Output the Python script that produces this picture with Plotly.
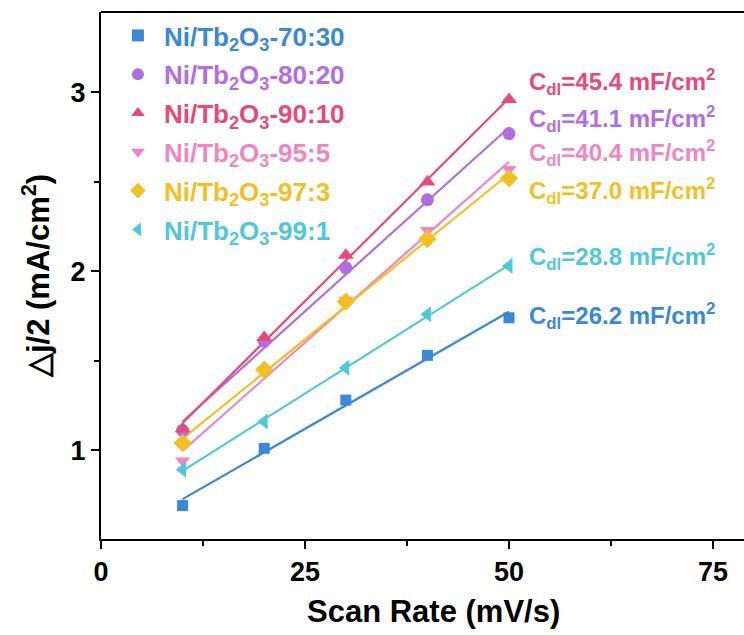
import plotly.graph_objects as go

# Scan rates (mV/s)
scan_rate = [10, 20, 30, 40, 50]

# Half of the capacitive current density difference, Δj/2 (mA/cm²)
j_70_30 = [0.69, 1.01, 1.28, 1.53, 1.74]
j_80_20 = [1.11, 1.61, 2.02, 2.40, 2.77]
j_90_10 = [1.12, 1.63, 2.09, 2.50, 2.96]
j_95_5 = [0.94, 1.44, 1.84, 2.23, 2.57]
j_97_3 = [1.04, 1.45, 1.83, 2.18, 2.52]
j_99_1 = [0.89, 1.16, 1.46, 1.76, 2.03]

# Double-layer capacitance from the linear fits (mF/cm²)
cdl_70_30 = 26.2
cdl_80_20 = 41.1
cdl_90_10 = 45.4
cdl_95_5 = 40.4
cdl_97_3 = 37.0
cdl_99_1 = 28.8

sample_names = ["70:30", "80:20", "90:10", "95:5", "97:3", "99:1"]
series_values = [j_70_30, j_80_20, j_90_10, j_95_5, j_97_3, j_99_1]
cdl_values = [cdl_70_30, cdl_80_20, cdl_90_10, cdl_95_5, cdl_97_3, cdl_99_1]
colors = ["#3b88d6", "#b26ee0", "#e6497c", "#ef86c4", "#f4bf22", "#4fc8d9"]
symbols = ["square", "circle", "triangle-up", "triangle-down", "diamond", "triangle-left"]
marker_sizes = [11, 13, 14, 13, 14, 14]
# vertical position of each C_dl label (data units)
label_y = [1.75, 2.85, 3.06, 2.66, 2.45, 2.08]

FONT = "Arial, Liberation Sans, sans-serif"

fig = go.Figure()

for name, ys, cdl, col in zip(sample_names, series_values, cdl_values, colors):
    # fit line with the slope given by C_dl, passing through the data centroid
    slope = cdl / 1000.0
    mx = sum(scan_rate) / len(scan_rate)
    my = sum(ys) / len(ys)
    x_fit = [scan_rate[0], scan_rate[-1]]
    y_fit = [my + slope * (x - mx) for x in x_fit]
    fig.add_trace(go.Scatter(
        x=x_fit, y=y_fit, mode="lines",
        line=dict(color=col, width=2.2),
        showlegend=False, hoverinfo="skip",
    ))

for name, ys, col, sym, ms in zip(sample_names, series_values, colors, symbols, marker_sizes):
    fig.add_trace(go.Scatter(
        x=scan_rate, y=ys, mode="markers",
        marker=dict(symbol=sym, size=ms, color=col, line=dict(width=0)),
        name=f"<span style='color:{col}'>Ni/Tb<sub>2</sub>O<sub>3</sub>-{name}</span>",
        legendgroup=name,
    ))

for cdl, col, ly in zip(cdl_values, colors, label_y):
    fig.add_annotation(
        x=52.2, y=ly, xref="x", yref="y",
        text=f"C<sub>dl</sub>={cdl:.1f} mF/cm<sup>2</sup>",
        showarrow=False, xanchor="left", yanchor="middle",
        font=dict(family=FONT, size=24, color=col, weight="bold"),
    )

# x-axis title
fig.add_annotation(
    x=0.5165, y=-0.137, xref="paper", yref="paper",
    text="Scan Rate (mV/s)", showarrow=False,
    xanchor="center", yanchor="middle",
    font=dict(family=FONT, size=31, color="black", weight="bold"),
)

# top frame line
fig.add_shape(type="line", xref="paper", yref="paper", x0=0, x1=1, y0=1, y1=1,
              line=dict(color="black", width=2))

fig.update_layout(
    width=744, height=635,
    margin=dict(l=101, r=0, t=12, b=96),
    paper_bgcolor="white", plot_bgcolor="white",
    font=dict(family=FONT, color="black"),
    legend=dict(
        x=0.017, y=1.0, xanchor="left", yanchor="top",
        bgcolor="rgba(0,0,0,0)", borderwidth=0,
        font=dict(family=FONT, size=26, weight="bold"),
        itemsizing="constant", itemwidth=42,
        tracegroupgap=2,
    ),
    xaxis=dict(
        range=[0, 78.8], tickvals=[0, 25, 50, 75],
        showline=True, linecolor="black", linewidth=2,
        ticks="outside", ticklen=8, tickwidth=2, tickcolor="black",
        minor=dict(tickvals=[12.5, 37.5, 62.5], ticks="outside", ticklen=5,
                   tickwidth=2, tickcolor="black"),
        showgrid=False, zeroline=False,
        tickfont=dict(family=FONT, size=27, weight="bold"),
    ),
    yaxis=dict(
        range=[0.503, 3.45], tickvals=[1, 2, 3],
        showline=True, linecolor="black", linewidth=2,
        ticks="outside", ticklen=8, tickwidth=2, tickcolor="black",
        minor=dict(tickvals=[1.5, 2.5], ticks="outside", ticklen=5,
                   tickwidth=2, tickcolor="black"),
        showgrid=False, zeroline=False,
        tickfont=dict(family=FONT, size=27, weight="bold"),
        title=dict(text="△j/2 (mA/cm<sup>2</sup>)", standoff=12,
                   font=dict(family=FONT, size=31, weight="bold")),
    ),
)

fig.write_html("out.html")
